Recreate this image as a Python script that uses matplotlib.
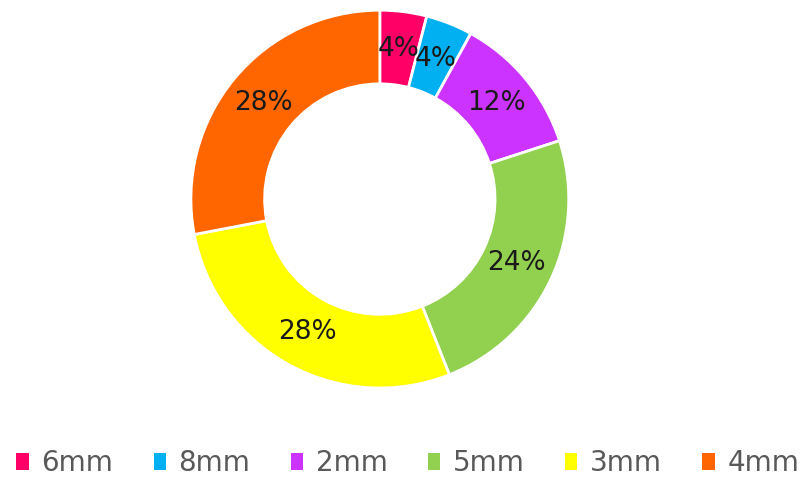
import matplotlib.pyplot as plt
from matplotlib.patches import Patch

labels = ['6mm', '8mm', '2mm', '5mm', '3mm', '4mm']
values = [4, 4, 12, 24, 28, 28]
colors = ['#FF0066', '#00B0F0', '#CC33FF', '#92D050', '#FFFF00', '#FF6600']

plt.rcParams['font.family'] = ['DejaVu Sans']

fig = plt.figure(figsize=(8.09, 4.78), dpi=100)
ax = fig.add_axes([0.236, 0.188, 0.467, 0.791])

wedges, texts, autotexts = ax.pie(values, colors=colors, startangle=90, counterclock=False,
                                  autopct='%d%%', pctdistance=0.8,
                                  wedgeprops=dict(width=0.39, edgecolor='white', linewidth=2))
for t in autotexts:
    t.set_fontsize(19)
    t.set_color('#1a1a1a')
ax.set_xlim(-1, 1)
ax.set_ylim(-1, 1)
ax.set_aspect('equal')

handles = [Patch(facecolor=c, edgecolor='none') for c in colors]
fig.legend(handles, labels, loc='center', bbox_to_anchor=(0.504, 0.031), ncol=6, frameon=False,
           fontsize=20, labelcolor='#595959', handlelength=0.45, handleheight=0.55,
           handletextpad=0.45, columnspacing=1.45)

fig.savefig('out.png', dpi=100)
